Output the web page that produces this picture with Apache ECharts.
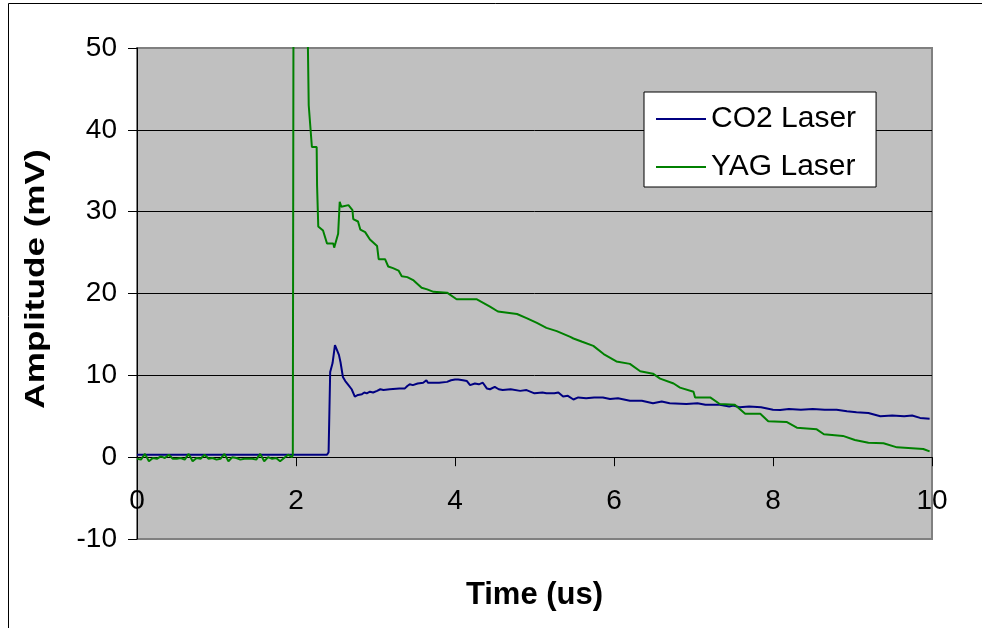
<!DOCTYPE html>
<html>
<head>
<meta charset="utf-8">
<script src="https://cdn.jsdelivr.net/npm/echarts@6/dist/echarts.min.js"></script>
<style>
html,body{margin:0;padding:0;background:#fff;}
#chart{width:982px;height:628px;}
</style>
</head>
<body>
<div id="chart"></div>
<script>
// ---- data ----
const seriesNames = ['CO2 Laser', 'YAG Laser'];
const xTitle = 'Time (us)';
const yTitle = 'Amplitude (mV)';
const xTicks = [0, 2, 4, 6, 8, 10];
const yTicks = [-10, 0, 10, 20, 30, 40, 50];

const co2Time = [0, 2.39, 2.41, 2.43, 2.46, 2.49, 2.51, 2.54, 2.56, 2.59, 2.62, 2.66, 2.70, 2.74, 2.76, 2.78, 2.83, 2.86, 2.89, 2.93, 2.97, 3.02, 3.06, 3.10, 3.18, 3.30, 3.37, 3.40, 3.43, 3.47, 3.53, 3.60, 3.64, 3.66, 3.80, 3.90, 3.95, 4.00, 4.04, 4.10, 4.15, 4.19, 4.25, 4.30, 4.35, 4.40, 4.44, 4.50, 4.55, 4.60, 4.70, 4.82, 4.90, 5.00, 5.10, 5.15, 5.25, 5.30, 5.36, 5.42, 5.49, 5.55, 5.65, 5.75, 5.86, 5.95, 6.05, 6.20, 6.35, 6.49, 6.60, 6.70, 6.91, 7.05, 7.15, 7.33, 7.45, 7.50, 7.58, 7.70, 7.85, 8.00, 8.09, 8.20, 8.35, 8.50, 8.65, 8.80, 8.93, 9.05, 9.20, 9.35, 9.50, 9.65, 9.75, 9.85, 9.97];
const co2Amp = [0.3, 0.3, 0.6, 10.4, 11.5, 13.7, 13.7, 12.5, 11.6, 9.8, 9.3, 8.8, 8.3, 7.4, 7.5, 7.6, 7.7, 7.9, 7.8, 8.0, 7.9, 8.1, 8.3, 8.2, 8.3, 8.4, 8.4, 8.7, 8.9, 8.8, 9.0, 9.1, 9.4, 9.1, 9.1, 9.2, 9.4, 9.5, 9.5, 9.4, 9.3, 8.8, 9.0, 8.9, 9.1, 8.4, 8.3, 8.6, 8.3, 8.2, 8.3, 8.1, 8.2, 7.8, 7.9, 7.8, 7.8, 7.9, 7.4, 7.5, 7.05, 7.3, 7.2, 7.3, 7.3, 7.1, 7.2, 6.9, 6.9, 6.6, 6.8, 6.6, 6.5, 6.6, 6.4, 6.4, 6.2, 6.3, 6.1, 6.2, 6.1, 5.8, 5.75, 5.9, 5.8, 5.9, 5.8, 5.8, 5.6, 5.5, 5.4, 5.0, 5.1, 5.0, 5.1, 4.8, 4.7];

const yagTime = [0, 0.05, 0.1, 0.15, 0.2, 0.25, 0.3, 0.35, 0.4, 0.45, 0.5, 0.55, 0.6, 0.65, 0.7, 0.75, 0.8, 0.85, 0.9, 0.95, 1.0, 1.05, 1.1, 1.15, 1.2, 1.25, 1.3, 1.35, 1.4, 1.45, 1.5, 1.55, 1.6, 1.65, 1.7, 1.75, 1.8, 1.85, 1.9, 1.95,
  1.96, 1.97, 2.13, 2.15, 2.16, 2.20, 2.26, 2.265, 2.28, 2.34, 2.39, 2.47, 2.48, 2.53, 2.55, 2.57, 2.66, 2.71, 2.72, 2.78, 2.81, 2.87, 2.93, 3.02, 3.04, 3.12, 3.16, 3.22, 3.29, 3.33, 3.40, 3.48, 3.58, 3.65, 3.73, 3.90, 4.02, 4.27, 4.44, 4.54, 4.78, 4.90, 5.03, 5.15, 5.28, 5.45, 5.49, 5.60, 5.74, 5.87, 6.03, 6.20, 6.33, 6.49, 6.58, 6.75, 6.83, 7.00, 7.02, 7.21, 7.33, 7.52, 7.65, 7.84, 7.94, 8.17, 8.30, 8.55, 8.64, 8.88, 9.03, 9.20, 9.39, 9.56, 9.89, 9.97];
const yagAmp = [-0.2, -0.3, 0.4, -0.5, -0.1, -0.2, 0.1, -0.1, 0.3, -0.2, -0.2, -0.1, -0.3, 0.4, -0.5, -0.1, -0.2, 0.3, -0.2, -0.1, -0.3, -0.2, 0.4, -0.5, 0.0, -0.1, -0.3, -0.2, -0.2, -0.2, -0.3, 0.4, -0.5, 0.0, -0.2, -0.1, -0.5, -0.1, 0.3, 0.0,
  0.3, 65, 55, 50, 43, 37.9, 37.9, 33.2, 28.2, 27.7, 26.1, 26.1, 25.6, 27.3, 31.2, 30.6, 30.8, 30.2, 29.1, 28.8, 27.8, 27.5, 26.6, 25.8, 24.2, 24.2, 23.3, 23.1, 22.8, 22.1, 22.0, 21.6, 20.7, 20.5, 20.2, 20.1, 19.3, 19.3, 18.4, 17.8, 17.5, 17.0, 16.4, 15.8, 15.4, 14.7, 14.5, 14.1, 13.6, 12.6, 11.7, 11.4, 10.5, 10.2, 9.6, 9.0, 8.5, 8.0, 7.3, 7.3, 6.5, 6.4, 5.3, 5.3, 4.4, 4.3, 3.6, 3.4, 2.8, 2.6, 2.1, 1.75, 1.7, 1.2, 1.0, 0.7];

const FONT = "'Liberation Sans', Arial, sans-serif";

const chart = echarts.init(document.getElementById('chart'), null, {renderer: 'canvas'});
chart.setOption({
  animation: false,
  backgroundColor: '#ffffff',
  graphic: [{
    type: 'rect',
    shape: {x: 8.5, y: 3.5, width: 1000, height: 700},
    style: {fill: 'none', stroke: '#000', lineWidth: 1},
    z: -10
  }, {
    type: 'text',
    x: 37, y: 279,
    rotation: Math.PI / 2,
    scaleX: 1.3,
    style: {
      text: yTitle,
      font: "bold 27px 'Liberation Sans', Arial, sans-serif",
      fill: '#000',
      align: 'center',
      verticalAlign: 'middle'
    }
  }],
  grid: {
    left: 137, top: 48, right: 50, bottom: 89,
    containLabel: false,
    outerBoundsMode: 'none',
    show: true, backgroundColor: '#C0C0C0', borderColor: '#808080', borderWidth: 2
  },
  legend: {
    orient: 'vertical',
    left: 644, top: 92,
    backgroundColor: '#ffffff',
    borderColor: '#000', borderWidth: 1,
    padding: [12, 20, 5, 12],
    itemGap: 18,
    itemWidth: 50, itemHeight: 2,
    icon: 'rect',
    textStyle: {fontFamily: FONT, fontSize: 30, color: '#000', lineHeight: 30},
    data: seriesNames
  },
  xAxis: {
    type: 'value',
    position: 'bottom',
    offset: -81.8,
    min: xTicks[0], max: xTicks[xTicks.length - 1], interval: 2,
    name: xTitle,
    nameLocation: 'middle',
    nameGap: 123,
    nameTextStyle: {fontFamily: FONT, fontSize: 31, fontWeight: 'bold', color: '#000', verticalAlign: 'top'},
    axisLine: {onZero: false, lineStyle: {color: '#000', width: 1}},
    axisTick: {show: true, inside: false, length: 9, lineStyle: {color: '#000'}},
    axisLabel: {fontFamily: FONT, fontSize: 28, color: '#000', margin: 30},
    splitLine: {show: false}
  },
  yAxis: {
    type: 'value',
    min: yTicks[0], max: yTicks[yTicks.length - 1], interval: 10,
    axisLine: {onZero: false, lineStyle: {color: '#000', width: 1}},
    axisTick: {show: true, inside: false, length: 9, lineStyle: {color: '#000'}},
    axisLabel: {fontFamily: FONT, fontSize: 28, color: '#000', margin: 20},
    splitLine: {show: true, showMinLine: false, showMaxLine: false, lineStyle: {color: '#000', width: 1}}
  },
  series: [
    {
      name: seriesNames[0], type: 'line', showSymbol: false, symbol: 'none',
      lineStyle: {color: '#000080', width: 2}, itemStyle: {color: '#000080'},
      clip: true,
      data: co2Time.map((t, i) => [t, co2Amp[i]])
    },
    {
      name: seriesNames[1], type: 'line', showSymbol: false, symbol: 'none',
      lineStyle: {color: '#008000', width: 2}, itemStyle: {color: '#008000'},
      clip: true,
      data: yagTime.map((t, i) => [t, yagAmp[i]])
    }
  ]
});
</script>
</body>
</html>
